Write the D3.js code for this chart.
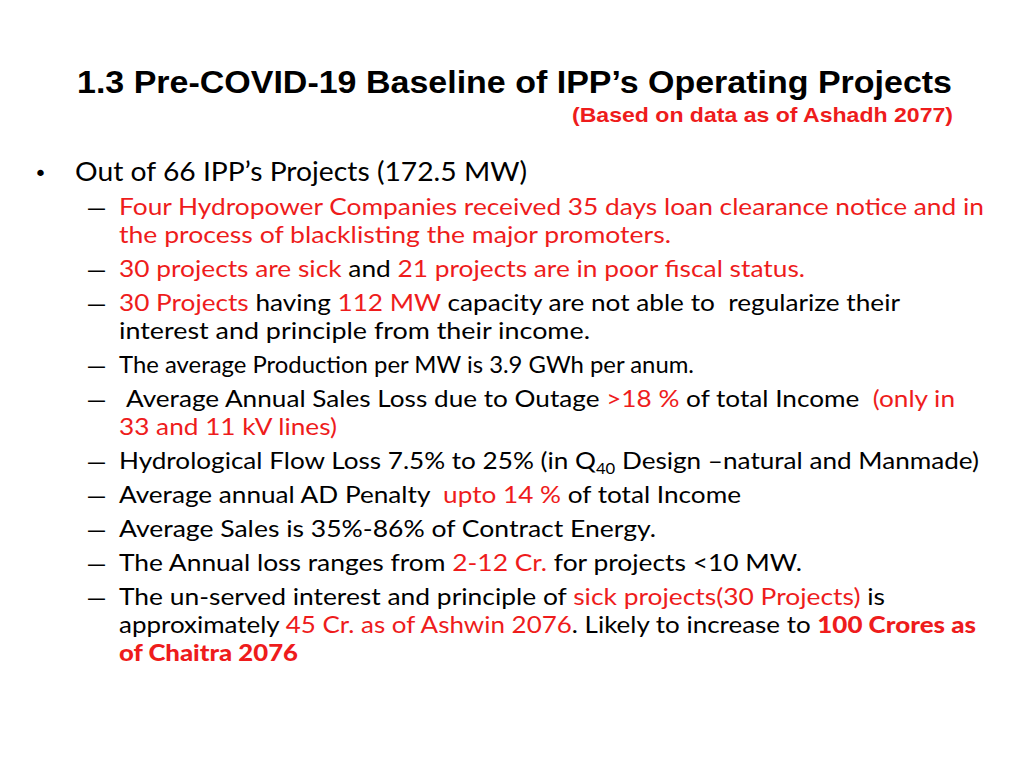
<!DOCTYPE html>
<html>
<head>
<meta charset="utf-8">
<script src="https://cdn.jsdelivr.net/npm/d3@7"></script>
<style>
  html, body { margin: 0; padding: 0; background: #fff; }
  svg { display: block; }
</style>
</head>
<body>
<svg id="slide" width="1024" height="768"></svg>
<script>
// ---- content ----
const titleText = "1.3 Pre-COVID-19 Baseline of IPP’s Operating Projects";
const subtitleText = "(Based on data  as of Ashadh 2077)";
const mainBullet = "Out of 66 IPP’s Projects (172.5 MW)";
// each item: list of wrapped lines; each line: list of [text, tag] (k=black, r=red, rb=red bold, sub=subscript)
const items = [
  [[["Four Hydropower Companies received 35 days loan clearance notice and in", "r"]],
   [["the process of blacklisting the major promoters.", "r"]]],
  [[["30 projects are sick", "r"], [" and ", "k"], ["21 projects are in poor fiscal status.", "r"]]],
  [[["30 Projects", "r"], [" having ", "k"], ["112 MW", "r"], [" capacity are not able to  regularize their", "k"]],
   [["interest and principle from their income.", "k"]]],
  [[["The average Production per MW is 3.9 GWh per anum.", "k"]]],
  [[["Average Annual Sales Loss due to Outage ", "k"], [">18 %", "r"], [" of total Income  ", "k"], ["(only in", "r"]],
   [["33 and 11 kV lines)", "r"]]],
  [[["Hydrological Flow Loss 7.5% to 25% (in Q", "k"], ["40", "sub"], [" Design –natural and Manmade)", "k"]]],
  [[["Average annual AD Penalty  ", "k"], ["upto 14 %", "r"], [" of total Income", "k"]]],
  [[["Average Sales is 35%-86% of Contract Energy.", "k"]]],
  [[["The Annual loss ranges from ", "k"], ["2-12 Cr.", "r"], [" for projects <10 MW.", "k"]]],
  [[["The un-served interest and principle of ", "k"], ["sick projects(30 Projects)", "r"], [" is", "k"]],
   [["approximately ", "k"], ["45 Cr. as of Ashwin 2076", "r"], [". Likely to increase to ", "k"], ["100 Crores as", "rb"]],
   [["of Chaitra 2076", "rb"]]]
];

const RED = "#ee1c1c";
const lineWidths = [865, 552, 686, 781, 471, 575, 829, 218, 860, 622, 537, 683, 766, 857, 179];
const lineStartX = [119, 119, 119, 119, 119, 119, 126, 119, 119, 119, 119, 119, 119, 119, 119];

const svg = d3.select("#slide");
svg.append("rect").attr("width", 1024).attr("height", 768).attr("fill", "#fff");

// Title
svg.append("text")
  .attr("x", 77).attr("y", 93)
  .attr("font-family", "'Liberation Sans', Arial, sans-serif")
  .attr("font-weight", "bold").attr("font-size", 32)
  .attr("fill", "#000")
  .attr("textLength", 875).attr("lengthAdjust", "spacingAndGlyphs")
  .text(titleText);

svg.append("text")
  .attr("x", 572).attr("y", 122)
  .attr("font-family", "'Liberation Sans', Arial, sans-serif")
  .attr("font-weight", "bold").attr("font-size", 20.5)
  .attr("fill", RED)
  .attr("textLength", 381).attr("lengthAdjust", "spacingAndGlyphs")
  .text(subtitleText);

const bodyFont = "Lato, 'Open Sans', sans-serif";

// main bullet
svg.append("text").attr("x", 34).attr("y", 181)
  .attr("font-family", "'DejaVu Sans', sans-serif").attr("font-size", 22).attr("fill", "#000")
  .text("•");
svg.append("text").attr("x", 75).attr("y", 181)
  .attr("font-family", bodyFont).attr("font-size", 26.5).attr("fill", "#000")
  .attr("textLength", 452).attr("lengthAdjust", "spacingAndGlyphs")
  .text(mainBullet);

// flatten lines with baseline positions
const itemGap = 34, wrapGap = 28;
const flat = [];
let y = 181;
items.forEach((item, i) => {
  item.forEach((line, j) => {
    y += (j === 0 ? itemGap : wrapGap);
    flat.push({line, y, first: j === 0});
  });
});

const yScale = d3.scaleIdentity();

const g = svg.append("g").attr("font-family", bodyFont).attr("font-size", 23.5);

// dashes
g.selectAll("text.dash").data(flat.filter(d => d.first)).join("text")
  .attr("class", "dash")
  .attr("x", 88).attr("y", d => yScale(d.y))
  .attr("fill", "#000")
  .attr("font-family", "'Liberation Sans', sans-serif")
  .attr("textLength", 17).attr("lengthAdjust", "spacingAndGlyphs")
  .text("–");

const lines = g.selectAll("text.line").data(flat).join("text")
  .attr("class", "line")
  .attr("x", (d, i) => lineStartX[i])
  .attr("y", d => yScale(d.y))
  .attr("textLength", (d, i) => lineWidths[i])
  .attr("lengthAdjust", "spacingAndGlyphs")
  .attr("xml:space", "preserve")
  .style("white-space", "pre");

lines.each(function(d) {
  const t = d3.select(this);
  d.line.forEach(([txt, tag]) => {
    const ts = t.append("tspan").text(txt)
      .attr("fill", (tag === "r" || tag === "rb") ? RED : "#000");
    if (tag === "rb") ts.attr("font-weight", "900");
    if (tag === "sub") {
      ts.attr("font-size", 15).attr("dy", 5);
    }
  });
  const tspans = t.selectAll("tspan").nodes();
  d.line.forEach(([txt, tag], k) => {
    if (tag === "sub" && tspans[k + 1]) d3.select(tspans[k + 1]).attr("dy", -5);
  });
});
</script>
</body>
</html>
